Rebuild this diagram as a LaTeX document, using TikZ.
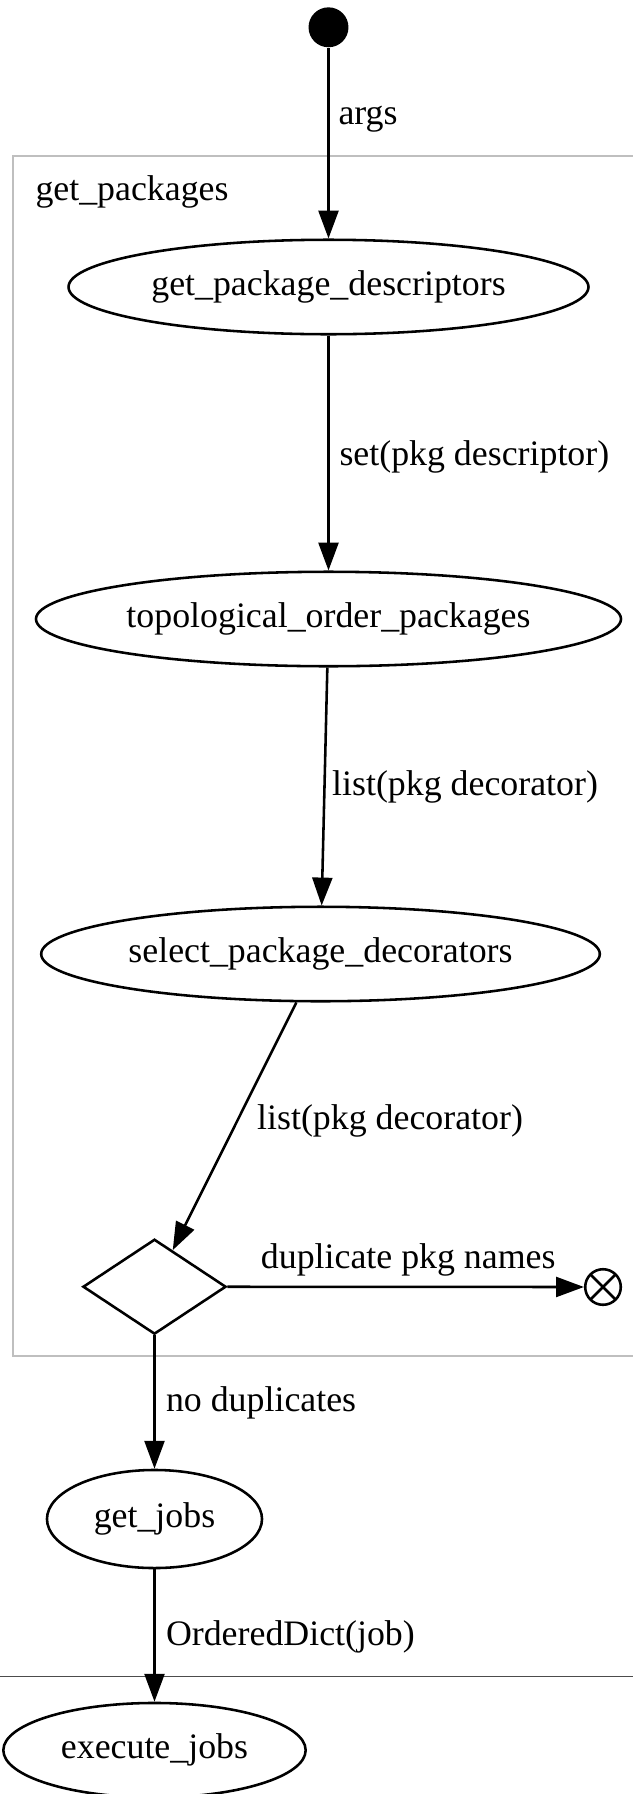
\documentclass[tikz,border=0pt]{standalone}
\usepackage{fontspec}
\setmainfont{Liberation Serif}
\usetikzlibrary{shapes.geometric,arrows.meta}

\begin{document}
\begin{tikzpicture}[
  x=0.3906pt, y=-0.3906pt,
  every node/.style={font=\fontsize{14pt}{16pt}\selectfont},
  state/.style={ellipse, draw, line width=1pt, inner sep=0pt, minimum height=36.9pt},
  flow/.style={-{Triangle[length=10.9pt,width=7.8pt]}, line width=1pt},
  lbl/.style={anchor=base west, inner sep=0pt}
]
\useasboundingbox (0,0) rectangle (633,1794);
\clip (0,0) rectangle (633,1794);
\draw[gray!50, line width=0.8pt] (13.3,155.7) rectangle (660,1355.7);
\draw[black!70, line width=0.4pt] (0,1676.7) -- (633,1676.7);
\node[lbl] (cluster) at (35,200) {get\_packages};

\node[circle, fill, inner sep=0pt, minimum size=15.6pt] (start) at (328.5,27.3) {};
\node[state, minimum width=203.1pt] (descriptors) at (328.5,287) {get\_package\_descriptors};
\node[state, minimum width=228.5pt] (topo) at (328.5,619) {topological\_order\_packages};
\node[state, minimum width=218.2pt] (select) at (320.5,954) {select\_package\_decorators};
\node[diamond, draw, line width=1pt, inner sep=0pt, minimum width=55.9pt, minimum height=37.1pt] (check) at (154.5,1286.7) {};
\node[circle, draw, line width=1pt, inner sep=0pt, minimum size=13.9pt,
  path picture={\draw[line width=1pt] (path picture bounding box.north west) -- (path picture bounding box.south east)
    (path picture bounding box.north east) -- (path picture bounding box.south west);}] (final) at (603,1287) {};
\node[state, minimum width=84pt, minimum height=38.3pt] (jobs) at (154.5,1519) {get\_jobs};
\node[state, minimum width=118.1pt] (execute) at (154.5,1750.2) {execute\_jobs};

\draw[flow] (start) -- (descriptors);
\draw[flow] (descriptors) -- (topo);
\draw[flow] (topo) -- (select);
\draw[flow] (select) -- (check);
\draw[flow] (check) -- (final);
\draw[flow] (check) -- (jobs);
\draw[flow] (jobs) -- (execute);

\node[lbl] (l-args) at (338,124) {args};
\node[lbl] (l-set) at (339,465) {set(pkg descriptor)};
\node[lbl] (l-list1) at (331.7,795) {list(pkg decorator)};
\node[lbl] (l-list2) at (256.7,1129.3) {list(pkg decorator)};
\node[lbl] (l-dup) at (260.4,1268.3) {duplicate pkg names};
\node[lbl] (l-nodup) at (165.5,1411.7) {no duplicates};
\node[lbl] (l-dict) at (165.5,1645) {OrderedDict(job)};
\end{tikzpicture}
\end{document}
